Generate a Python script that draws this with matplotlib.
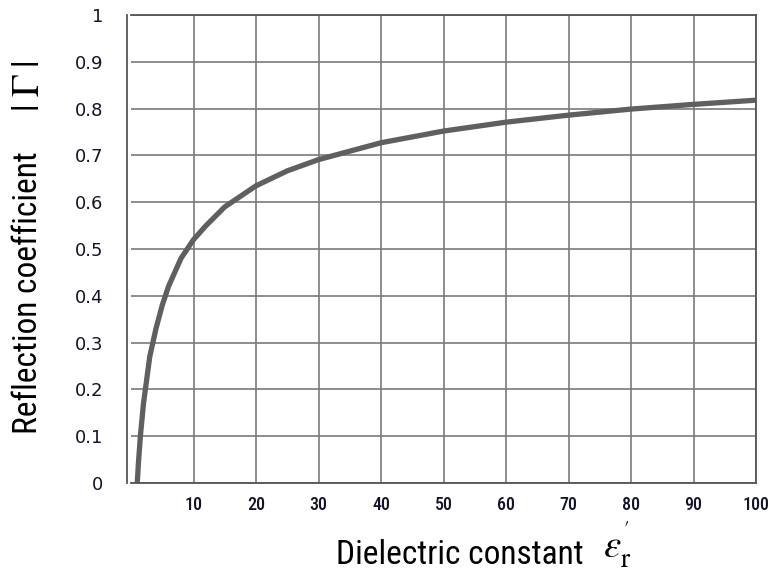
import matplotlib
matplotlib.use("Agg")
import matplotlib.pyplot as plt

# values
eps_r = [1, 1.2, 1.5, 2, 2.5, 3, 4, 5, 6, 7, 8, 10, 12, 15, 20, 25, 30,
         40, 50, 60, 70, 80, 90, 100]
gamma = [0.0, 0.045, 0.10, 0.17, 0.22, 0.27, 0.33, 0.38, 0.42, 0.45, 0.48,
         0.52, 0.55, 0.59, 0.635, 0.667, 0.691, 0.727, 0.752, 0.771, 0.786,
         0.799, 0.809, 0.818]

x_ticks = [10, 20, 30, 40, 50, 60, 70, 80, 90, 100]
y_ticks = [0, 0.1, 0.2, 0.3, 0.4, 0.5, 0.6, 0.7, 0.8, 0.9, 1]
y_labels = ["0", "0.1", "0.2", "0.3", "0.4", "0.5", "0.6", "0.7", "0.8", "0.9", "1"]

narrow = ["Roboto Condensed", "Liberation Sans", "DejaVu Sans"]

fig = plt.figure(figsize=(7.7, 5.76), dpi=100)
ax = fig.add_axes([131 / 770, 1 - 483 / 576, 625 / 770, 468 / 576])

ax.plot(eps_r, gamma, color="#5f5f5f", lw=3.8, solid_capstyle="butt")

ax.set_xlim(0, 100)
ax.set_ylim(0, 1)
ax.set_xticks(x_ticks)
ax.set_yticks(y_ticks)
ax.set_yticklabels(y_labels)
ax.grid(True, color="#7a7a7a", lw=1.2)
ax.set_axisbelow(True)
ax.tick_params(length=0, labelsize=13, colors="#141428")
ax.tick_params(axis="x", pad=9)
ax.tick_params(axis="y", pad=17)
for lab in ax.get_xticklabels() + ax.get_yticklabels():
    lab.set_family(narrow)
    lab.set_fontweight("medium")

for side in ["top", "right", "bottom"]:
    ax.spines[side].set_color("#555555")
    ax.spines[side].set_linewidth(1.3)
ax.spines["left"].set_position(("outward", 3))
ax.spines["left"].set_color("#555555")
ax.spines["left"].set_linewidth(1.3)

fig.text(460 / 770, 1 - 555 / 576, "Dielectric constant",
         family=narrow, fontsize=24, ha="center", va="center", color="black")
fig.text(617 / 770, 1 - 545 / 576, r"$\varepsilon_{\mathrm{r}}^{'}$",
         math_fontfamily="stix", fontsize=28, ha="center", va="center",
         color="black")
fig.text(28 / 770, 1 - 293 / 576, "Reflection coefficient", rotation=90,
         family=narrow, fontsize=24, ha="center", va="center", color="black")
fig.text(29 / 770, 1 - 86 / 576, r"$|\;\Gamma\;|$", rotation=90,
         math_fontfamily="stix", fontsize=27, ha="center", va="center",
         color="black")

fig.savefig("out.png", dpi=100)
